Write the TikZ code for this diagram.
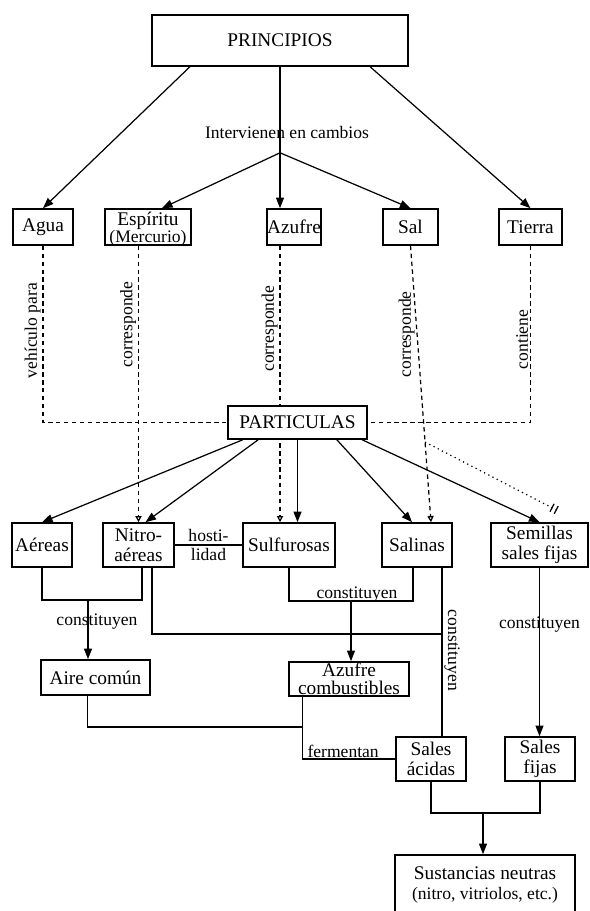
\documentclass[tikz,border=0pt]{standalone}
\usepackage{fontspec}
\setmainfont{Liberation Serif}
\usetikzlibrary{positioning,calc,arrows.meta,backgrounds}

\newcommand{\boxfont}{\fontsize{11}{11.5}\selectfont}
\newcommand{\lblfont}{\fontsize{10}{10.5}\selectfont}

\begin{document}
\begin{tikzpicture}[
    x=0.02cm, y=-0.02cm,
    box/.style={draw, line width=0.9pt, fill=white, inner sep=0pt, align=center, font=\boxfont},
    lbl/.style={inner sep=1pt, font=\lblfont},
    line/.style={draw, line width=0.7pt},
    arr/.style={line, -{Triangle[length=6pt, width=4.5pt]}},
    dashline/.style={line, dash pattern=on 2.5pt off 2pt},
    dasharr/.style={dashline, -{Triangle[open, length=3.5pt, width=3.5pt]}},
    dotarr/.style={line, dotted, -{Bar[width=5pt, sep=2pt] Bar[width=5pt]}}
]
\useasboundingbox (0,0) rectangle (589,911);

% Define node positions
\node[box, minimum width=5.12cm, minimum height=1.02cm] (princ) at (280,40.5) {PRINCIPIOS};

\node[box, minimum width=1.2cm, minimum height=0.72cm] (agua) at (43,227) {Agua};
\node[box, minimum width=1.72cm, minimum height=0.72cm, text height=7.5pt, text depth=9pt] (espiritu) at (148,227) {Espíritu};
\node[lbl, anchor=base] (mercurio) at ([yshift=-9.5pt]espiritu.base) {(Mercurio)};
\node[box, minimum width=1.08cm, minimum height=0.72cm] (azufre) at (294,227) {Azufre};
\node[box, minimum width=1.1cm, minimum height=0.72cm] (sal) at (410.5,227) {Sal};
\node[box, minimum width=1.26cm, minimum height=0.72cm] (tierra) at (530.5,227) {Tierra};

\node[box, minimum width=2.78cm, minimum height=0.66cm] (part) at (297.5,422.5) {PARTICULAS};

\node[box, minimum width=1.2cm, minimum height=0.88cm] (aereas) at (42,545) {Aéreas};
\node[box, minimum width=1.42cm, minimum height=0.88cm] (nitro) at (138.5,545) {Nitro-\\aéreas};
\node[box, minimum width=1.84cm, minimum height=0.88cm] (sulf) at (289,545) {Sulfurosas};
\node[box, minimum width=1.4cm, minimum height=0.88cm] (salinas) at (417,545) {Salinas};
\node[box, minimum width=1.94cm, minimum height=0.88cm] (semillas) at (539.5,545) {Semillas\\sales fijas};

\node[box, minimum width=2.18cm, minimum height=0.7cm] (aire) at (95.5,677.5) {Aire común};
\node[box, minimum width=2.4cm, minimum height=0.68cm] (azcomb) at (349,679) {Azufre\\[-1.5pt]combustibles};

\node[box, minimum width=1.4cm, minimum height=0.88cm] (salesac) at (431,759) {Sales\\ácidas};
\node[box, minimum width=1.4cm, minimum height=0.88cm] (salesfij) at (540,759) {Sales\\fijas};

\node[box, minimum width=3.6cm, minimum height=1.2cm] (sust) at (485,885) {Sustancias neutras\\{\fontsize{10}{11}\selectfont(nitro, vitriolos, etc.)}};

% Principios
\coordinate (jcamb) at ($(princ.south)+(0,86)$);
\draw[arr] ($(princ.south west)!0.15!(princ.south east)$) -- (agua.north);
\draw[arr] ($(princ.south west)!0.85!(princ.south east)$) -- (tierra.north);
\draw[arr] (princ.south) -- (princ.south |- azufre.north);
\draw[arr] (jcamb) -- ($(espiritu.north)+(14,0)$);
\draw[arr] (jcamb) -- (sal.north);
\node[lbl] (cambios) at (287,132) {Intervienen en cambios};

% Dashed links to particulas
\draw[dashline] (agua.south) |- (part.west) node[lbl, rotate=90, above, pos=0.24] {vehículo para};
\draw[dashline] (tierra.south) |- (part.east) node[lbl, rotate=90, above=-3pt, pos=0.25] {contiene};
\draw[dasharr] (espiritu.south -| nitro.north) -- (nitro.north) node[lbl, rotate=90, above=4pt, pos=0.31] {corresponde};
\begin{scope}[on background layer]
\draw[dasharr] (azufre.south -| princ.south) -- (princ.south |- sulf.north) node[lbl, rotate=90, above, pos=0.3] {corresponde};
\end{scope}
\draw[dasharr] (sal.south) -- ($(salinas.north)+(14,0)$) coordinate[pos=0.71] (salcruce) node[lbl, rotate=90, above, pos=0.32] {corresponde};
\draw[dotarr] (salcruce) -- ($(semillas.north east)+(-32,-12)$);

% Particulas
\draw[arr] ($(part.south west)!0.11!(part.south east)$) -- (aereas.north);
\draw[arr] ($(part.south west)!0.22!(part.south east)$) -- ($(nitro.north)+(7,0)$);
\draw[arr] (part.south) -- (part.south |- sulf.north);
\draw[arr] ($(part.south west)!0.78!(part.south east)$) -- ($(salinas.north)+(-5,0)$);
\draw[arr] ($(part.south west)!0.96!(part.south east)$) -- (semillas.north);

\draw[line] (nitro.east) -- (sulf.west) node[lbl, midway, align=center] {hosti-\\lidad};

% Lower part
\coordinate (jaire) at (88,600);
\draw[line] (aereas.south) |- (jaire) -| ($(nitro.south)+(3.5,0)$);
\draw[arr] (jaire) -- (jaire |- aire.north) node[lbl, pos=0.37, xshift=0.18cm] {constituyen};

\coordinate (jsal) at (351,601);
\coordinate (jcomb) at (351,634);
\draw[line] (sulf.south) |- (jsal) -| ($(salinas.south)+(-4,0)$);
\node[lbl] (constsal) at (357,595) {constituyen};
\draw[arr] (jsal) -- (jsal |- azcomb.north);
\draw[line] ($(nitro.south)+(13.5,0)$) |- (jcomb);
\coordinate (salder) at ($(salinas.south)+(25,0)$);
\draw[line] (salder) -- (salder |- salesac.north) node[lbl, rotate=-90, above, pos=0.49] {constituyen};
\draw[line] (salder |- jcomb) -- (jcomb);

\draw[arr] (semillas.south) -- (semillas.south |- salesfij.north) node[lbl, pos=0.34] {constituyen};

\coordinate (jferm) at (303,727);
\coordinate (azizq) at ($(azcomb.south west)+(14,0)$);
\draw[line] ($(aire.south)+(-8,0)$) |- (jferm);
\draw[line] (azizq) |- (salesac.west) node[lbl, pos=0.72, above, inner sep=0.5pt] {fermentan};

\coordinate (jneu) at (483,813);
\draw[line] (salesac.south) |- (jneu) -| (salesfij.south);
\draw[arr] (jneu) -- (jneu |- sust.north);

\end{tikzpicture}
\end{document}
